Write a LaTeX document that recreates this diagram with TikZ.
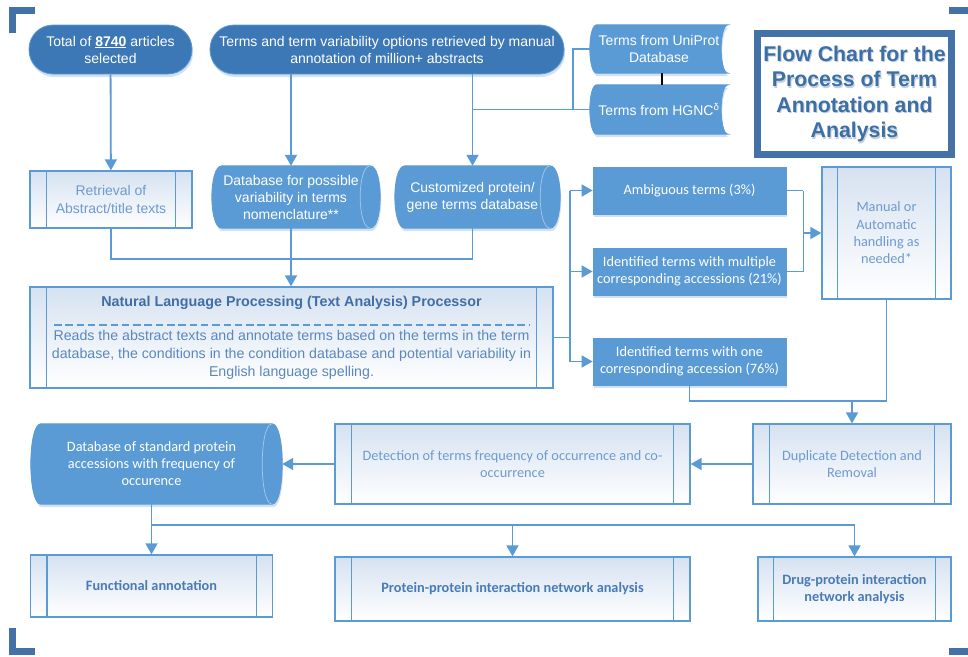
\documentclass[tikz,border=0pt]{standalone}
\usepackage{fontspec}
\setmainfont{Liberation Sans}
\newfontfamily\calfont{Carlito}
\usetikzlibrary{arrows.meta,shadows,backgrounds,calc}

\definecolor{lnblue}{HTML}{5B9BD5}
\definecolor{termfill}{HTML}{3D78B6}
\definecolor{datafill}{HTML}{5B9BD5}
\definecolor{frame}{HTML}{4472A6}
\definecolor{proctext}{HTML}{6E9AD0}
\definecolor{headtext}{HTML}{3F6EA6}
\definecolor{bodytext}{HTML}{5B87BE}
\definecolor{boldtext}{HTML}{4A7BB5}
\definecolor{procgrad}{HTML}{D6E2F1}
\definecolor{shadowc}{HTML}{D2E1F2}
\definecolor{backarc}{HTML}{A8C6E8}
\definecolor{titletext}{HTML}{3C6FA6}
\definecolor{titleshadow}{HTML}{C4CFDD}

% horizontal cylinder (direct access storage); the right arc reaches #2pt past the node's east side
\newcommand\cylpath[2]{([xshift=#2pt]#1.north west) -- (#1.north east)
  .. controls ([xshift={4*#2pt/3}]#1.north east) and ([xshift={4*#2pt/3}]#1.south east) .. (#1.south east)
  -- ([xshift=#2pt]#1.south west)
  .. controls ([xshift={-#2pt/3}]#1.south west) and ([xshift={-#2pt/3}]#1.north west) .. cycle}
\newcommand\cylback[2]{(#1.north east)
  .. controls ([xshift={-4*#2pt/3}]#1.north east) and ([xshift={-4*#2pt/3}]#1.south east) .. (#1.south east)}
% stored data: convex left side, concave right side
\newcommand\storedpath[2]{([xshift=#2pt]#1.north west) -- (#1.north east)
  .. controls ([xshift={-4*#2pt/3}]#1.north east) and ([xshift={-4*#2pt/3}]#1.south east) .. (#1.south east)
  -- ([xshift=#2pt]#1.south west)
  .. controls ([xshift={-#2pt/3}]#1.south west) and ([xshift={-#2pt/3}]#1.north west) .. cycle}
% inner bars of a predefined-process box
\newcommand\sidebars[2]{\draw[procedge] ([xshift=#2pt]#1.north west) -- ([xshift=#2pt]#1.south west)
  ([xshift=-#2pt]#1.north east) -- ([xshift=-#2pt]#1.south east);}

\begin{document}
\begin{tikzpicture}[x=1pt,y=-1pt,
  line/.style={draw=lnblue,line width=1.8pt},
  arr/.style={line,-{Triangle[width=12pt,length=11pt]}},
  corner/.style={draw=frame,line width=7pt,line cap=butt,miter limit=10},
  softshadow/.style={drop shadow={shadow xshift=1pt,shadow yshift=-3pt,fill=shadowc,opacity=1}},
  terminal/.style={rectangle,rounded corners=24pt,draw=lnblue,line width=0.8pt,fill=termfill,
    text=white,inner sep=0pt,align=center,font=\fontsize{14}{17}\selectfont,softshadow},
  datanode/.style={rectangle,inner sep=0pt,align=center,text=white,font=\fontsize{14}{17}\selectfont},
  solidbox/.style={rectangle,fill=datafill,draw=datafill,line width=0.8pt,text=white,inner sep=0pt,
    align=center,font=\calfont\fontsize{14.3}{17.3}\selectfont,softshadow},
  procbox/.style={rectangle,draw=lnblue,line width=1.3pt,top color=procgrad,bottom color=white,
    inner sep=0pt,align=center,text=proctext,font=\calfont\fontsize{14.3}{17.3}\selectfont},
  boldproc/.style={text=boldtext,font=\calfont\bfseries\fontsize{14.3}{17.3}\selectfont},
  procedge/.style={draw=lnblue,line width=1.3pt},
  dashline/.style={draw=lnblue,line width=1.4pt,dash pattern=on 7.5pt off 3.8pt},
  titlefont/.style={align=center,font=\bfseries\fontsize{21.3}{25.5}\selectfont,inner sep=0pt}]

\useasboundingbox (0,0) rectangle (968,656);

% corner marks
\draw[corner] (12.5,33) -- (12.5,10.5) -- (35,10.5);
\draw[corner] (949,10.5) -- (968,10.5);
\draw[corner] (12.5,628) -- (12.5,651) -- (35,651);
\draw[corner] (949,651) -- (968,651);

% sources
\node[terminal,minimum width=163pt,minimum height=49pt] (tot) at (110.5,49.5)
  {Total of \underline{\textbf{8740}} articles\\selected};
\node[terminal,minimum width=354pt,minimum height=49pt] (trm) at (387,49.5)
  {Terms and term variability options retrieved by manual\\annotation of million+ abstracts};
\node[datanode,minimum width=138pt,minimum height=48pt] (uni) at (659,49) {Terms from UniProt\\Database};
\node[datanode,minimum width=138pt,minimum height=49pt] (hgn) at (659,109.5) {Terms from HGNC\textsuperscript{δ}};

% title
\node[draw=frame,line width=7pt,fill=white,minimum width=194pt,minimum height=121pt,inner sep=0pt] (ttl) at (854.5,94) {};
\node[titlefont,text=titleshadow] (ttls) at ([xshift=1pt,yshift=-1.5pt]ttl.center)
  {Flow Chart for the\\Process of Term\\Annotation and\\Analysis};
\node[titlefont,text=titletext] (ttlt) at (ttl.center)
  {Flow Chart for the\\Process of Term\\Annotation and\\Analysis};

% second row
\node[procbox,font=\fontsize{14}{17.3}\selectfont,minimum width=162pt,minimum height=57pt] (ret) at (111,199.5)
  {Retrieval of\\Abstract/title texts};
\node[datanode,minimum width=158pt,minimum height=62pt] (var) at (291,197)
  {Database for possible\\variability in terms\\nomenclature**};
\node[datanode,minimum width=155pt,minimum height=62pt] (cus) at (472.5,197)
  {Customized protein/\\gene terms database};

% text processor
\node[procbox,minimum width=523pt,minimum height=101pt] (nlp) at (291.5,337.5) {};
\node[text=headtext,font=\bfseries\fontsize{14.3}{16}\selectfont,inner sep=0pt] (nlph) at (291.5,303)
  {Natural Language Processing (Text Analysis) Processor};
\draw[dashline] (54,325) -- (530,325);
\node[text=bodytext,align=center,font=\fontsize{14.2}{18}\selectfont,inner sep=0pt] (nlpb) at (291.5,355)
  {Reads the abstract texts and annotate terms based on the terms in the term\\
   database, the conditions in the condition database and potential variability in\\
   English language spelling.};

% classification of terms
\node[solidbox,minimum width=193pt,minimum height=47pt] (amb) at (689.5,190.5) {Ambiguous terms (3\%)};
\node[solidbox,minimum width=193pt,minimum height=47pt] (mul) at (689.5,271.5)
  {Identified terms with multiple\\corresponding accessions (21\%)};
\node[solidbox,minimum width=193pt,minimum height=47pt] (one) at (689.5,361.5)
  {Identified terms with one\\corresponding accession (76\%)};
\node[procbox,minimum width=129pt,minimum height=132pt] (man) at (886.5,233)
  {Manual or\\Automatic\\handling as\\needed*};

% post-processing
\node[procbox,minimum width=198pt,minimum height=80pt] (dup) at (852,464) {Duplicate Detection and\\Removal};
\node[procbox,minimum width=355pt,minimum height=80pt] (det) at (512.5,464)
  {Detection of terms frequency of occurrence and co-\\occurrence};
\node[datanode,font=\calfont\fontsize{14.3}{17}\selectfont,minimum width=241pt,minimum height=80pt] (dbs) at (151.5,464)
  {Database of standard protein\\accessions with frequency of\\occurence};

% analyses
\node[procbox,boldproc,minimum width=242pt,minimum height=62pt] (fun) at (151.5,586) {Functional annotation};
\node[procbox,boldproc,minimum width=355pt,minimum height=64pt] (ppi) at (512.5,589)
  {Protein-protein interaction network analysis};
\node[procbox,boldproc,minimum width=193pt,minimum height=64pt] (drg) at (854.5,589)
  {Drug-protein interaction\\network analysis};

\sidebars{ret}{17}
\sidebars{nlp}{17}
\sidebars{man}{16}
\sidebars{dup}{17}
\sidebars{det}{17}
\sidebars{fun}{17}
\sidebars{ppi}{17}
\sidebars{drg}{16}

% page background and storage shapes behind their labels
\begin{scope}[on background layer]
  \fill[white] (0,0) rectangle (968,656);
  \begin{scope}[transform canvas={xshift=1pt,yshift=-3pt}]
    \fill[shadowc] \cylpath{var}{10};
    \fill[shadowc] \cylpath{cus}{10};
    \fill[shadowc] \cylpath{dbs}{10};
    \fill[shadowc] \storedpath{uni}{7};
    \fill[shadowc] \storedpath{hgn}{7};
  \end{scope}
  \filldraw[fill=datafill,draw=datafill,line width=0.8pt] \cylpath{var}{10};
  \filldraw[fill=datafill,draw=datafill,line width=0.8pt] \cylpath{cus}{10};
  \filldraw[fill=datafill,draw=datafill,line width=0.8pt] \cylpath{dbs}{10};
  \filldraw[fill=datafill,draw=datafill,line width=0.8pt] \storedpath{uni}{7};
  \filldraw[fill=datafill,draw=datafill,line width=0.8pt] \storedpath{hgn}{7};
  \draw[backarc,line width=0.7pt] \cylback{var}{10};
  \draw[backarc,line width=0.7pt] \cylback{cus}{10};
  \draw[backarc,line width=0.7pt] \cylback{dbs}{10};
\end{scope}

% connectors
\draw[arr] (tot) -- (ret);
\draw[arr] (trm.south -| var.north) -- (var.north);
\draw[arr] (trm.south -| cus.north) -- (cus.north);
\draw[line] (uni.west) -- ++(-17,0) |- (hgn.west -| cus.north);
\draw[line] (hgn.west) -- ++(-17,0);
\draw[black,line width=1.2pt] ([xshift=3pt]uni.south) -- ([xshift=3pt]hgn.north);

\coordinate (bus1) at (291,259);
\draw[line] (ret.south) |- (bus1) -| (cus.south);
\draw[line] (var.south) -- (bus1);
\draw[arr] (bus1) -- (bus1 |- nlp.north);

\draw[line] (nlp.east) -- ++(16,0) coordinate (br);
\draw[line] (br |- amb.west) -- (br |- one.west);
\draw[arr] (br |- amb.west) -- (amb.west);
\draw[arr] (br |- mul.west) -- (mul.west);
\draw[arr] (br |- one.west) -- (one.west);

\draw[line] (amb.east) -- ++(17,0) coordinate (mg);
\draw[line] (mul.east) -| (mg);
\draw[arr] (mg |- man.west) -- (man.west);

\coordinate (jd) at (852,401);
\draw[line] (one.south) |- (jd) -| (man.south);
\draw[arr] (jd) -- (dup.north);

\draw[arr] (dup.west) -- (det.east);
\draw[arr] (det.west) -- ([xshift=10pt]dbs.east);

\coordinate (bus2) at (151.5,525);
\draw[line] (dbs.south) -- (bus2) -- (bus2 -| drg.north);
\draw[arr] (bus2) -- (fun.north);
\draw[arr] (bus2 -| ppi.north) -- (ppi.north);
\draw[arr] (bus2 -| drg.north) -- (drg.north);

\end{tikzpicture}
\end{document}
